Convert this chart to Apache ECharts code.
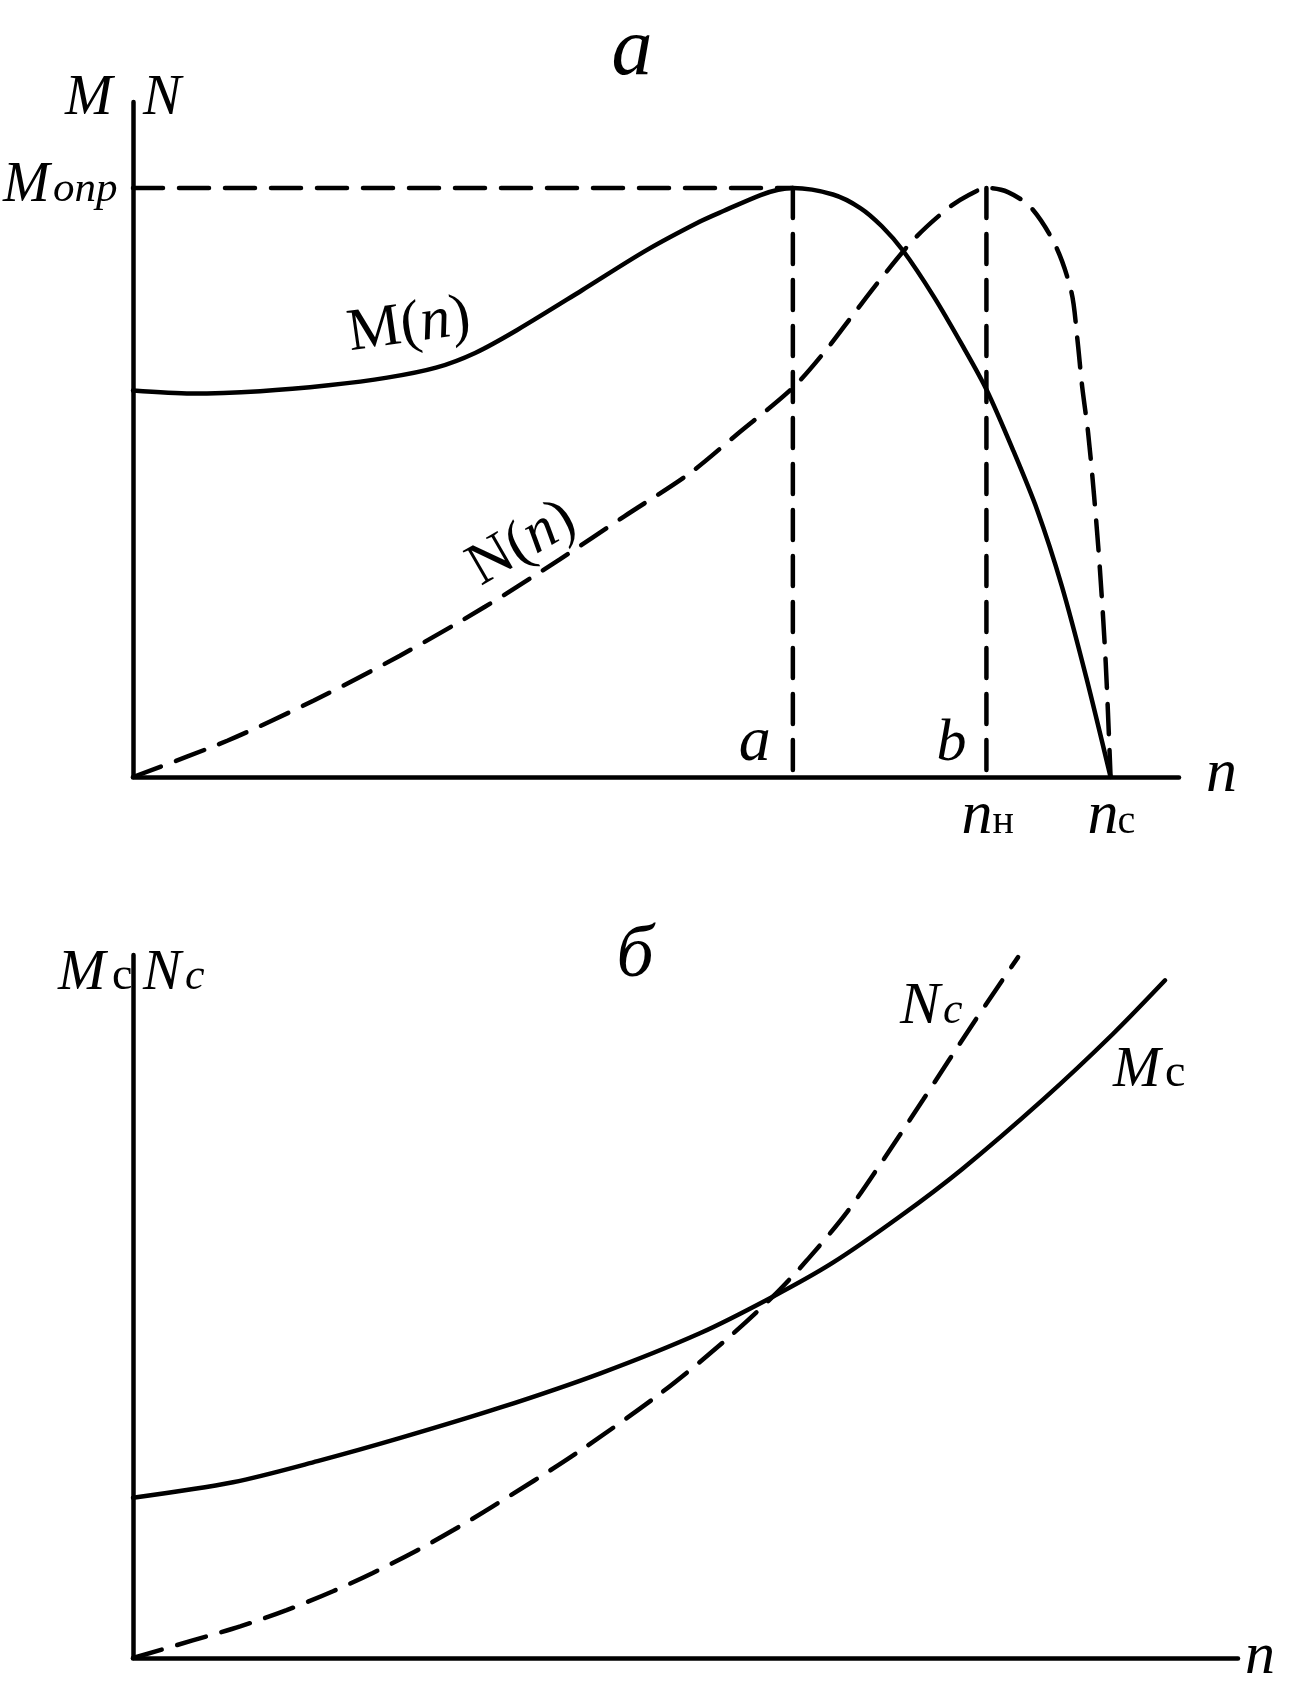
<!DOCTYPE html>
<html><head><meta charset="utf-8">
<script src="https://cdn.jsdelivr.net/npm/echarts@6/dist/echarts.min.js"></script>
<style>html,body{margin:0;padding:0;background:#fff}#c{width:1292px;height:1691px}</style>
</head><body><div id="c"></div>
<script>
// ---- data (top chart: n in units where n_c = 100, M_опр = 100) ----
const nA = 67.5;      // point a
const nB = 87.3;      // point b (n_н)
const nC = 100;       // n_с
const mOpr = 100;     // M_опр
const topXMax = 107;
const topYMax = 114.6;

const M_n = [[0,65.6],[6,65.1],[13,65.5],[20,66.5],[26,67.8],[31,69.5],[35,72],[39.3,75.9],[45.9,82.6],[52.5,89.4],[58,94.3],[60.4,96.1],[64.2,98.8],[66,99.7],[67.5,100],[71.6,98.9],[74.4,96.6],[76.6,93.5],[78.8,89.3],[81.9,81.6],[84.9,73.1],[87.3,65.8],[90,55.6],[92.5,45.3],[95,32.5],[97.5,17],[100,0]];

const N_n = [[0,0],[9.7,6.2],[18.5,13],[27.3,20.6],[36,28.9],[43.7,37],[50.3,44.3],[56.9,51.5],[61.8,58.2],[67.5,66.1],[70.8,72.3],[73.8,78.8],[76.7,85.0],[80.0,91.5],[83.4,96.6],[85.5,98.8],[87.3,100],[89.5,99.3],[91.9,96.6],[94.4,90.1],[96.0,82.3],[96.6,74.4],[97.1,66.2],[97.7,58.5],[98.3,48],[98.9,35.5],[99.5,19.5],[100,0]];

// ---- data (bottom chart) ----
const botXMax = 100;
const botYMax = 100;
const Mc = [[0,22.8],[9.05,25.0],[16.7,28.0],[24.2,31.3],[33.2,35.6],[42.3,40.5],[51.3,46.2],[57.9,51.4],[63.3,56.2],[69.4,62.8],[75,69.5],[82.4,79.5],[88.7,88.8],[93.4,96.4]];
const Nc = [[0,0],[5.4,2.5],[9.7,4.5],[13.9,6.8],[18.1,9.5],[21.7,12.1],[25.7,15.3],[29,18.2],[32.6,21.6],[40,29.0],[47.7,37.6],[53.4,44.9],[57.9,51.4],[61,56.6],[64.6,63.4],[68,71.1],[71.5,79.4],[76,90.2],[80.1,99.7]];

const FF = '"Liberation Serif","Times New Roman",serif';
const LW = 4.5;
const DASH = [30, 16];

const chart = echarts.init(document.getElementById('c'), null, {renderer: 'canvas'});

function axisX(idx, max) {
  return {gridIndex: idx, type: 'value', min: 0, max: max,
    axisLine: {show: true, onZero: false, lineStyle: {color: '#000', width: LW}},
    axisTick: {show: false}, axisLabel: {show: false}, splitLine: {show: false}};
}
function solid(name, data, xi) {
  return {name, type: 'line', xAxisIndex: xi, yAxisIndex: xi, data, smooth: 0.3,
    showSymbol: false, symbol: 'none', lineStyle: {color: '#000', width: LW, cap: 'round'}, z: 5};
}
function dashed(name, data, xi, smooth) {
  return {name, type: 'line', xAxisIndex: xi, yAxisIndex: xi, data, smooth: smooth,
    showSymbol: false, symbol: 'none', lineStyle: {color: '#000', width: LW, type: DASH, cap: 'round'}, z: 4};
}

chart.setOption({
  animation: false,
  backgroundColor: '#fff',
  grid: [
    {left: 133, right: 113, top: 102, bottom: 914},
    {left: 133, right: 54, top: 955, bottom: 33}
  ],
  xAxis: [axisX(0, topXMax), axisX(1, botXMax)],
  yAxis: [axisX(0, topYMax), axisX(1, botYMax)],
  series: [
    solid('M(n)', M_n, 0),
    dashed('N(n)', N_n, 0, 0.3),
    dashed('Mopr', [[0, mOpr], [nA, mOpr]], 0, false),
    dashed('a', [[nA, mOpr], [nA, 0]], 0, false),
    dashed('b', [[nB, mOpr], [nB, 0]], 0, false),
    solid('Mc', Mc, 1),
    dashed('Nc', Nc, 1, 0.3)
  ]
});

function T(str, x, base, size, italic, align) {
  return {type: 'text', x: x, y: base - 0.24 * size, z: 100,
    style: {text: str, font: (italic ? 'italic ' : '') + size + 'px ' + FF, fill: '#000',
      textAlign: align || 'left', textVerticalAlign: 'middle', align: align || 'left', verticalAlign: 'middle'}};
}
function R(str, cx, cy, size, deg) {
  return {type: 'text', x: cx, y: cy, rotation: deg * Math.PI / 180, z: 100,
    style: {text: str, fill: '#000', textAlign: 'center', textVerticalAlign: 'middle', align: 'center', verticalAlign: 'middle',
      rich: {r: {font: size + 'px ' + FF, fill: '#000'}, i: {font: 'italic ' + size + 'px ' + FF, fill: '#000'}}}};
}

const pa = chart.convertToPixel({gridIndex: 0}, [nA, 0]);
const pb = chart.convertToPixel({gridIndex: 0}, [nB, 0]);
const pc = chart.convertToPixel({gridIndex: 0}, [nC, 0]);
const pm = chart.convertToPixel({gridIndex: 0}, [0, mOpr]);

chart.setOption({
  graphic: [
    T('а', 632, 72, 82, true, 'center'),
    T('M', 65, 113, 57, true),
    T('N', 143, 113, 57, true),
    T('M', 3, pm[1] + 12, 56, true),
    T('опр', 53, pm[1] + 12, 43, true),
    T('a', pa[0] - 54, 759, 64, true),
    T('b', pb[0] - 50, 759, 60, true),
    T('n', 1206, 790, 62, true),
    T('n', pb[0] - 25, 832, 62, true),
    T('н', pb[0] + 6, 832, 40, false),
    T('n', pc[0] - 23, 832, 62, true),
    T('с', pc[0] + 7, 832, 40, false),
    R('{r|M(}{i|n}{r|)}', 409, 326, 60, 8),
    R('{r|N(}{i|n}{r|)}', 522, 544, 60, 30),
    T('б', 635, 974, 74, true, 'center'),
    T('M', 58, 988, 57, true),
    T('с', 112, 988, 46, false),
    T('N', 143, 988, 57, true),
    T('c', 185, 988, 44, true),
    T('N', 900, 1022, 60, true),
    T('c', 943, 1022, 44, true),
    T('M', 1113, 1085, 57, true),
    T('с', 1165, 1085, 46, false),
    T('n', 1245, 1672, 60, true)
  ]
});
</script></body></html>
